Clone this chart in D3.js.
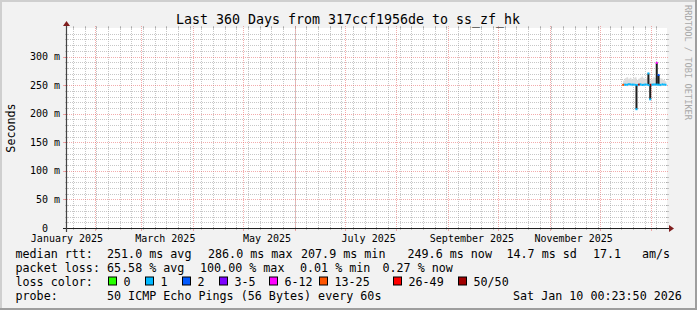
<!DOCTYPE html>
<html>
<head>
<meta charset="utf-8">
<script src="https://cdn.jsdelivr.net/npm/d3@7"></script>
<style>
  body { margin: 0; background: #f2f2f2; }
  svg { display: block; font-family: "DejaVu Sans Mono", monospace; }
</style>
</head>
<body>
<svg id="chart"></svg>
<script>
// graph period (last 360 days)
const rangeStart = "2025-01-15T00:23:50Z";
const rangeEnd = "2026-01-10T00:23:50Z";

const titleText = "Last 360 Days from 317ccf1956de to ss_zf_hk";
const yTitle = "Seconds";
const yTicks = [0, 50, 100, 150, 200, 250, 300];
const xLabelDays = ["2025-01-15", "2025-03-15", "2025-05-15", "2025-07-15", "2025-09-15", "2025-11-15"];
const xLabelText = ["January 2025", "March 2025", "May 2025", "July 2025", "September 2025", "November 2025"];

// daily consolidated samples (ms)
const sampleDays = ["2025-12-15", "2025-12-16", "2025-12-17", "2025-12-18", "2025-12-19", "2025-12-20",
  "2025-12-21", "2025-12-22", "2025-12-23", "2025-12-24", "2025-12-25", "2025-12-26", "2025-12-27",
  "2025-12-28", "2025-12-29", "2025-12-30", "2025-12-31", "2026-01-01", "2026-01-02", "2026-01-03",
  "2026-01-04", "2026-01-05", "2026-01-06", "2026-01-07", "2026-01-08", "2026-01-09", "2026-01-10"];
const medianRtt = [250.5, 251.0, 250.2, 251.4, 251.8, 250.6, 251.2, 250.9, 249.8, 250.5, 251.6, 250.8, 250.2,
  251.0, 251.3, 250.4, 249.9, 251.2, 250.7, 251.5, 250.8, 251.1, 250.3, 250.9, 251.4, 250.6, 250.8];
const smokeLow = [249.0, 248.5, 248.0, 249.0, 249.5, 248.0, 249.0, 248.5, 247.5, 248.0, 249.0, 248.5, 248.0,
  249.0, 249.0, 248.0, 247.5, 249.0, 248.5, 249.0, 248.5, 249.0, 248.0, 248.5, 249.0, 248.5, 248.5];
const smokeHigh = [258, 262, 264, 261, 263, 260, 262, 264, 259, 261, 263, 265, 262,
  260, 263, 262, 258, 261, 264, 262, 260, 263, 262, 261, 259, 257, 256];
const lossClass = [5, 1, 1, 1, 1, 1, 1, 1, 1, 1, 7, 1, 1, 1, 1, 1, 1, 7, 1, 1, 1, 1, 1, 1, 1, 1, 1];

// short excursions of the median
const spikeTimes = ["2025-12-23T00:00:00Z", "2025-12-30T04:00:00Z", "2025-12-31T06:00:00Z",
  "2026-01-04T04:00:00Z", "2026-01-05T06:00:00Z"];
const spikeFrom = [250.5, 251.0, 250.5, 251.0, 250.5];
const spikeTo = [207.9, 270.5, 225.2, 289.0, 267.8];
const spikeClass = [1, 1, 1, 4, 2];

// legend
const lossLabels = ["0", "1", "2", "3-5", "6-12", "13-25", "26-49", "50/50"];
const lossColors = ["#26ff00", "#00b8ff", "#0059ff", "#7e00ff", "#ff00ff", "#ff5500", "#ff0000", "#a10000"];
const rttStats = ["251.0 ms avg", "286.0 ms max", "207.9 ms min", "249.6 ms now", "14.7 ms sd", "17.1", "am/s"];
const lossStats = ["65.58 % avg", "100.00 % max", "0.01 % min", "0.27 % now"];
const probeText = "50 ICMP Echo Pings (56 Bytes) every 60s";
const stampText = "Sat Jan 10 00:23:50 2026";

class SmokeGraph {

  constructor(_config) {
    this.config = {
      parentElement: _config.parentElement,
      width: 697,
      height: 310,
      xorigin: 67,
      yorigin: 228,
      xsize: 600,
      ysize: 200
    };
    this.initVis();
  }

  initVis() {
    let vis = this;
    const c = vis.config;

    vis.svg = d3.select(c.parentElement)
      .attr("width", c.width)
      .attr("height", c.height);

    vis.x = d3.scaleUtc()
      .domain([new Date(rangeStart), new Date(rangeEnd)])
      .range([c.xorigin - 0.5, c.xorigin + c.xsize - 0.5]);
    vis.y = d3.scaleLinear()
      .domain([0, 350])
      .range([c.yorigin, c.yorigin - c.ysize]);

    vis.drawFrame();
    vis.drawGrid();
    vis.drawData();
    vis.drawAxes();
    vis.drawLegend();
  }

  drawFrame() {
    let vis = this;
    const c = vis.config;
    vis.svg.append("rect").attr("width", c.width).attr("height", c.height).attr("fill", "#f2f2f2");
    // shaded border
    vis.svg.append("path").attr("d", `M0,${c.height} V0 H${c.width} V2 H2 V${c.height} Z`).attr("fill", "#cfcfcf");
    vis.svg.append("path").attr("d", `M${c.width},0 V${c.height} H0 V${c.height - 2} H${c.width - 2} V0 Z`).attr("fill", "#9e9e9e");

    vis.svg.append("rect")
      .attr("x", c.xorigin).attr("y", c.yorigin - c.ysize)
      .attr("width", c.xsize).attr("height", c.ysize)
      .attr("fill", "#ffffff");

    vis.svg.append("text")
      .attr("x", 348).attr("y", 24)
      .attr("text-anchor", "middle")
      .attr("font-size", 13.3)
      .text(titleText);

    vis.svg.append("text")
      .attr("transform", "translate(684.5,5) rotate(90)")
      .attr("font-size", 8.7)
      .attr("fill", "#a8a8a8")
      .text("RRDTOOL / TOBI OETIKER");
  }

  drawGrid() {
    let vis = this;
    const c = vis.config;
    const x0 = c.xorigin, x1 = c.xorigin + c.xsize;
    const yTop = c.yorigin - c.ysize, yBot = c.yorigin;
    const g = vis.svg.append("g").attr("shape-rendering", "crispEdges");
    const minorCol = "rgba(143,143,143,0.5)";
    const majorCol = "rgba(232,90,90,0.5)";

    const t0 = new Date(rangeStart), t1 = new Date(rangeEnd);
    const weeks = d3.utcSunday.range(t0, t1);
    const months = d3.utcMonth.range(t0, t1);

    // vertical minor (weeks)
    weeks.forEach(d => {
      const px = Math.round(vis.x(d)) + 0.5;
      g.append("line").attr("x1", px).attr("x2", px).attr("y1", yTop - 1).attr("y2", yBot + 1)
        .attr("stroke", minorCol).attr("stroke-dasharray", "1,1");
      g.append("line").attr("x1", px).attr("x2", px).attr("y1", yBot - 1).attr("y2", yBot + 2).attr("stroke", minorCol);
      g.append("line").attr("x1", px).attr("x2", px).attr("y1", yTop - 2).attr("y2", yTop + 1).attr("stroke", minorCol);
    });

    // horizontal minor every 10 ms
    const minorY = d3.range(10, 351, 10).filter(v => v % 50 !== 0);
    minorY.forEach(v => {
      const py = Math.round(vis.y(v)) + 0.5;
      g.append("line").attr("x1", x0 - 1).attr("x2", x1 + 1).attr("y1", py).attr("y2", py)
        .attr("stroke", minorCol).attr("stroke-dasharray", "1,1");
      g.append("line").attr("x1", x0 - 2).attr("x2", x0 + 1).attr("y1", py).attr("y2", py).attr("stroke", minorCol);
      g.append("line").attr("x1", x1 - 1).attr("x2", x1 + 2).attr("y1", py).attr("y2", py).attr("stroke", minorCol);
    });

    // vertical major (months)
    months.forEach(d => {
      const px = Math.round(vis.x(d)) + 0.5;
      g.append("line").attr("x1", px).attr("x2", px).attr("y1", yTop - 2).attr("y2", yBot + 2)
        .attr("stroke", majorCol).attr("stroke-dasharray", "1,1");
      g.append("line").attr("x1", px).attr("x2", px).attr("y1", yBot).attr("y2", yBot + 3).attr("stroke", majorCol);
    });
    // horizontal major every 50 ms
    yTicks.filter(v => v > 0).forEach(v => {
      const py = Math.round(vis.y(v)) + 0.5;
      g.append("line").attr("x1", x0 - 2).attr("x2", x1 + 2).attr("y1", py).attr("y2", py)
        .attr("stroke", majorCol).attr("stroke-dasharray", "1,1");
      g.append("line").attr("x1", x0 - 4).attr("x2", x0).attr("y1", py).attr("y2", py).attr("stroke", majorCol);
    });
  }

  drawData() {
    let vis = this;
    const days = sampleDays.map(d => new Date(d + "T00:00:00Z"));
    const pts = days.map((d, i) => ({ t: d, med: medianRtt[i], lo: smokeLow[i], hi: smokeHigh[i], cls: lossClass[i] }));

    // smoke
    vis.svg.append("path")
      .datum(pts)
      .attr("fill", "#dcdcdc")
      .attr("d", d3.area()
        .curve(d3.curveStepAfter)
        .x(d => vis.x(d.t))
        .y0(d => vis.y(d.lo))
        .y1(d => vis.y(d.hi)));

    // spikes
    const spikes = spikeTimes.map((t, i) => ({ t: new Date(t), from: spikeFrom[i], to: spikeTo[i], cls: spikeClass[i] }));
    vis.svg.append("g")
      .selectAll("line")
      .data(spikes)
      .join("line")
        .attr("x1", d => vis.x(d.t)).attr("x2", d => vis.x(d.t))
        .attr("y1", d => vis.y(d.from)).attr("y2", d => vis.y(d.to))
        .attr("stroke", "#1e1e1e")
        .attr("stroke-width", 2);
    vis.svg.append("g")
      .selectAll("rect")
      .data(spikes)
      .join("rect")
        .attr("x", d => vis.x(d.t) - 1)
        .attr("y", d => vis.y(d.to) - 1)
        .attr("width", 2).attr("height", 2)
        .attr("fill", d => lossColors[d.cls]);

    // median, coloured by loss
    const segs = d3.pairs(pts);
    vis.svg.append("g")
      .selectAll("line")
      .data(segs)
      .join("line")
        .attr("x1", d => vis.x(d[0].t)).attr("y1", d => vis.y(d[0].med))
        .attr("x2", d => vis.x(d[1].t)).attr("y2", d => vis.y(d[1].med))
        .attr("stroke", d => lossColors[d[1].cls])
        .attr("stroke-width", 2);
    vis.svg.append("rect")
      .attr("x", vis.x(pts[0].t) - 1).attr("y", vis.y(pts[0].med) - 1)
      .attr("width", 2).attr("height", 2)
      .attr("fill", lossColors[pts[0].cls]);
  }

  drawAxes() {
    let vis = this;
    const c = vis.config;

    // y labels via d3 axis
    const yAxis = vis.svg.append("g")
      .attr("transform", `translate(${c.xorigin - 7},0)`)
      .call(d3.axisLeft(vis.y).tickValues(yTicks).tickSize(0).tickPadding(0)
        .tickFormat(d => d === 0 ? "0" : d + " m"));
    yAxis.select(".domain").remove();
    yAxis.selectAll("text")
      .attr("font-family", "DejaVu Sans Mono")
      .attr("font-size", 10)
      .attr("fill", "#000")
      .attr("x", d => d === 0 ? -12 : 0)
      .attr("dy", "0.3em");

    // x labels
    const xAxis = vis.svg.append("g")
      .attr("transform", `translate(0,${c.yorigin + 13.5})`)
      .call(d3.axisBottom(vis.x)
        .tickValues(xLabelDays.map(d => new Date(d + "T00:00:00Z")))
        .tickSize(0).tickPadding(0)
        .tickFormat((d, i) => xLabelText[i]));
    xAxis.select(".domain").remove();
    xAxis.selectAll("text")
      .attr("font-family", "DejaVu Sans Mono")
      .attr("font-size", 10)
      .attr("fill", "#000")
      .attr("y", 0)
      .attr("dy", null);

    // axis lines + arrows
    const ax = vis.svg.append("g");
    ax.append("line")
      .attr("x1", c.xorigin - 4).attr("x2", c.xorigin + c.xsize + 4)
      .attr("y1", c.yorigin + 0.5).attr("y2", c.yorigin + 0.5)
      .attr("stroke", "#1f1f1f").attr("stroke-width", 1.2);
    ax.append("line")
      .attr("x1", c.xorigin - 0.5).attr("x2", c.xorigin - 0.5)
      .attr("y1", c.yorigin + 4).attr("y2", c.yorigin - c.ysize - 4)
      .attr("stroke", "#444").attr("stroke-width", 1.2);
    ax.append("path")
      .attr("d", `M${c.xorigin + c.xsize + 2},${c.yorigin - 3} L${c.xorigin + c.xsize + 2},${c.yorigin + 4} L${c.xorigin + c.xsize + 7},${c.yorigin + 0.5} Z`)
      .attr("fill", "#801f1f");
    ax.append("path")
      .attr("d", `M${c.xorigin - 4},${c.yorigin - c.ysize - 2} L${c.xorigin + 3},${c.yorigin - c.ysize - 2} L${c.xorigin - 0.5},${c.yorigin - c.ysize - 7} Z`)
      .attr("fill", "#801f1f");

    vis.svg.append("text")
      .attr("transform", "translate(15,128) rotate(-90)")
      .attr("text-anchor", "middle")
      .attr("font-size", 11.7)
      .text(yTitle);
  }

  drawLegend() {
    let vis = this;
    const fs = 11.7;
    const lx = 15.5;
    const rows = [257.5, 271.5, 285.5, 299.5];
    const put = (x, y, s) => vis.svg.append("text").attr("x", x).attr("y", y)
      .attr("font-size", fs).attr("xml:space", "preserve").text(s);

    put(lx, rows[0], "median rtt:");
    const rttX = [107, 208, 301, 407.5, 506.5, 593, 642];
    rttStats.forEach((s, i) => put(rttX[i], rows[0], s));

    put(lx, rows[1], "packet loss:");
    const lossX = [107, 200, 300, 382.5];
    lossStats.forEach((s, i) => put(lossX[i], rows[1], s));

    put(lx, rows[2], "loss color:");
    const boxX = [108.5, 145.5, 182.5, 219.5, 269.5, 319.5, 393.5, 458.5];
    lossLabels.forEach((s, i) => {
      vis.svg.append("rect")
        .attr("x", boxX[i]).attr("y", rows[2] - 8.5)
        .attr("width", 8).attr("height", 8)
        .attr("fill", lossColors[i])
        .attr("stroke", "#000").attr("stroke-width", 1);
      put(boxX[i] + 15, rows[2], s);
    });

    put(lx, rows[3], "probe:");
    put(107, rows[3], probeText);
    put(513, rows[3], stampText);
  }
}

new SmokeGraph({ parentElement: "#chart" });
</script>
</body>
</html>
